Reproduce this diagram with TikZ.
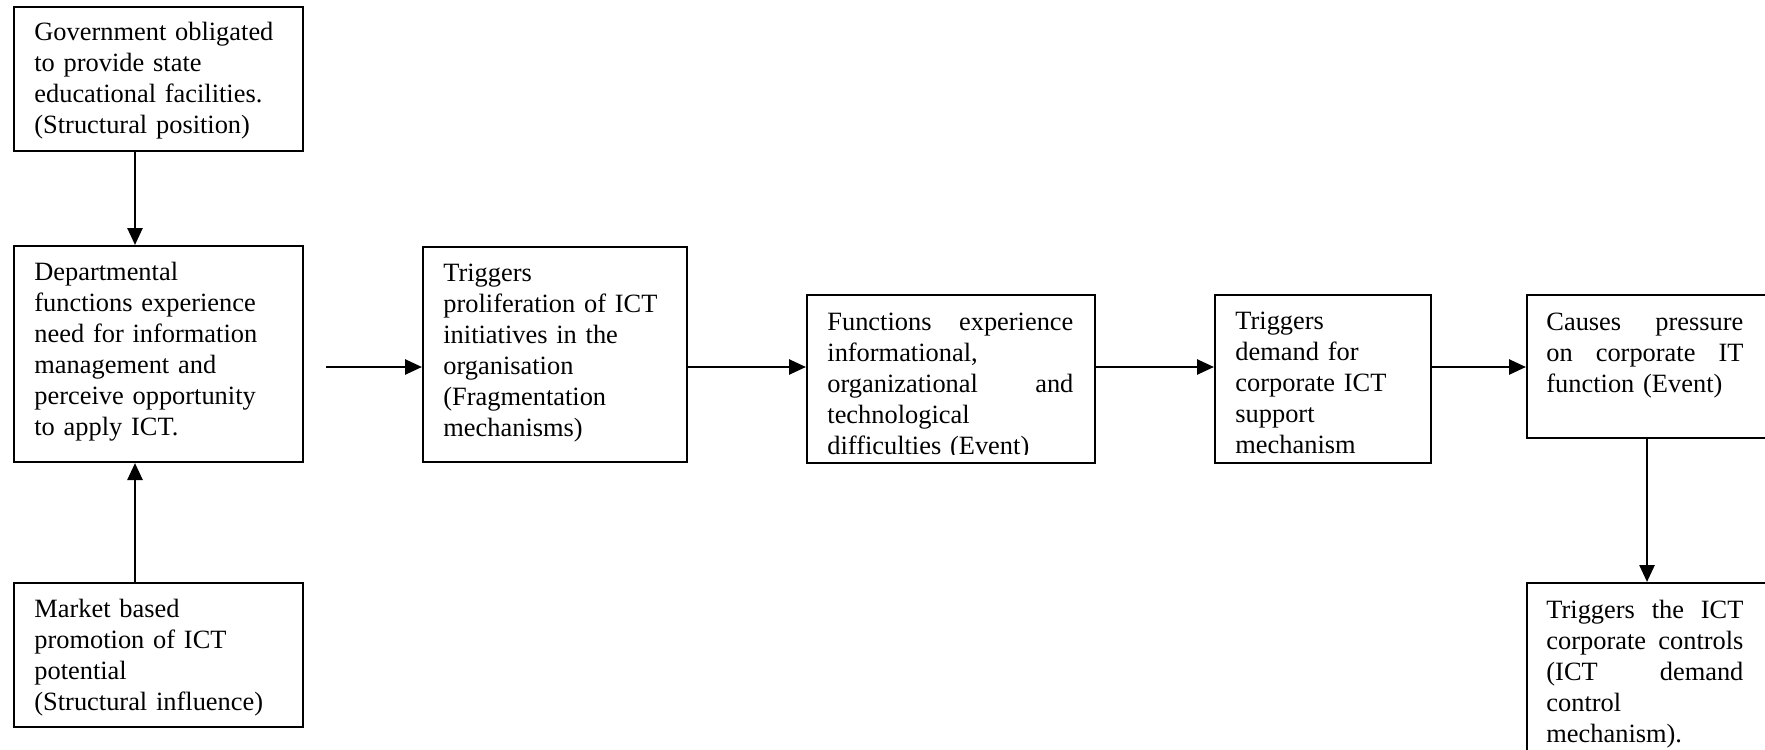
\documentclass[tikz,border=0pt]{standalone}
\usepackage{fontspec}
\setmainfont{Liberation Serif}
\usetikzlibrary{arrows.meta,fit}

\tikzset{
  box/.style={draw, line width=1pt, inner sep=0pt},
  txt/.style={anchor=base west, inner sep=0pt, align=left,
              font=\fontsize{13.2pt}{15.5pt}\selectfont},
  arr/.style={line width=1.3pt, -{Triangle[length=8.5pt,width=7.5pt]}},
}

\begin{document}
\begin{tikzpicture}[x=0.5pt, y=-0.5pt] % units in pixels, y downwards
\clip (0,0) rectangle (1765,749);

% boxes
\node[box, fit={(14,7) (303,151)}]     (gov) {};
\node[box, fit={(14,246) (303,462)}]   (dept) {};
\node[box, fit={(14,583) (303,727)}]   (market) {};
\node[box, fit={(423,247) (687,462)}]  (prolif) {};
\node[box, fit={(807,295) (1095,463)}] (functions) {};
\node[box, fit={(1215,295) (1431,463)}] (demand) {};
\node[box, fit={(1527,295) (1767,438)}] (pressure) {};
\node[box, fit={(1527,583) (1767,770)}] (controls) {};

% texts
\node[txt, text width=123.5pt] at ([shift={(21,35)}]gov.north west)
  {Government obligated\\ to provide state\\ educational facilities.\\ (Structural position)};
\node[txt, text width=123.5pt] at ([shift={(21,35)}]dept.north west)
  {Departmental\\ functions experience\\ need for information\\ management and\\ perceive opportunity\\ to apply ICT.};
\node[txt, text width=123.5pt] at ([shift={(21,35)}]market.north west)
  {Market based\\ promotion of ICT\\ potential\\ (Structural influence)};
\node[txt, text width=111pt] at ([shift={(21,35)}]prolif.north west)
  {Triggers\\ proliferation of ICT\\ initiatives in the\\ organisation\\ (Fragmentation\\ mechanisms)};
\begin{scope}
  \clip (functions.north west) rectangle ([yshift=5pt]functions.south east);
  \node[txt, text width=123pt] at ([shift={(21,36)}]functions.north west)
    {Functions\hfill experience\\ informational,\\ organizational\hfill and\\ technological\\ difficulties (Event)};
\end{scope}
\begin{scope}
  \clip (demand.north west) rectangle ([yshift=2.5pt]demand.south east);
  \node[txt, text width=87pt] at ([shift={(21,35)}]demand.north west)
    {Triggers\\ demand for\\ corporate ICT\\ support\\ mechanism};
\end{scope}
\node[txt, text width=98.5pt] at ([shift={(20,36)}]pressure.north west)
  {Causes\hfill pressure\\ on\hfill corporate\hfill IT\\ function (Event)};
\node[txt, text width=98.5pt] at ([shift={(20,36)}]controls.north west)
  {Triggers\hfill the\hfill ICT\\ corporate\hfill controls\\ (ICT\hfill demand\\ control\\ mechanism).};

% connectors
\coordinate (row) at (0,367);
\coordinate (col) at (135,0);
\coordinate (start) at (326,367);
\draw[arr] (gov.south -| col) -- (dept.north -| col);
\draw[arr] (market.north -| col) -- (dept.south -| col);
\draw[arr] (start) -- (prolif.west |- row);
\draw[arr] (prolif.east |- row) -- (functions.west |- row);
\draw[arr] (functions.east |- row) -- (demand.west |- row);
\draw[arr] (demand.east |- row) -- (pressure.west |- row);
\draw[arr] (pressure.south) -- (controls.north);
\end{tikzpicture}
\end{document}
